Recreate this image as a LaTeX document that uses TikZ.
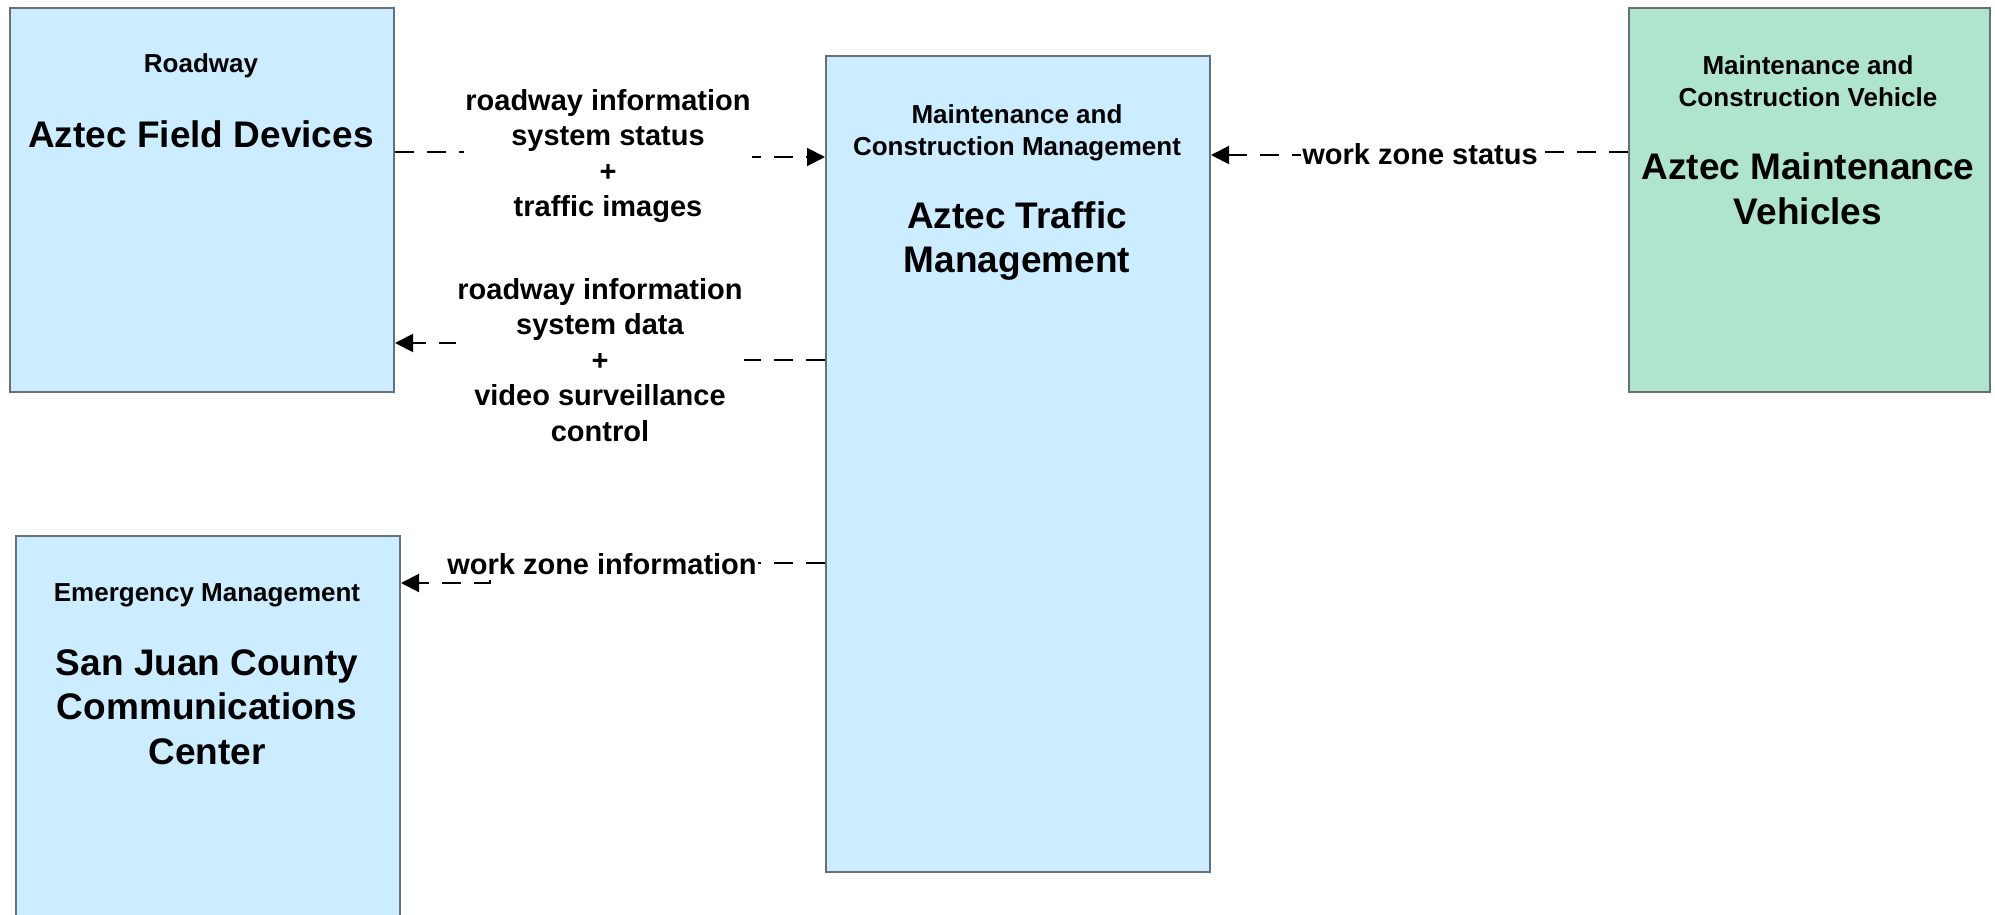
\documentclass[tikz,border=0pt]{standalone}
\usepackage{fontspec}
\setmainfont{Liberation Sans}
\usetikzlibrary{arrows.meta}
\definecolor{boxblue}{RGB}{204,236,255}
\definecolor{boxgreen}{RGB}{175,228,205}
\definecolor{boxline}{RGB}{102,112,122}
\tikzset{
  sysbox/.style={draw=boxline, line width=2pt, rectangle, anchor=north west, inner sep=0pt},
  smalltxt/.style={font=\fontsize{26}{32.5}\selectfont\bfseries, align=center, inner sep=0pt},
  bigtxt/.style={font=\fontsize{37}{44.5}\selectfont\bfseries, align=center, inner sep=0pt},
  flowlbl/.style={font=\fontsize{29}{35.5}\selectfont\bfseries, align=center, fill=white, inner sep=1pt},
  flow/.style={draw=black, line width=2pt, dash pattern=on 19pt off 13pt, -{Triangle[length=18pt,width=18pt]}}
}
\begin{document}
\begin{tikzpicture}[x=1pt,y=-1pt]
\useasboundingbox (0,0) rectangle (1995,915);
\fill[white] (0,0) rectangle (1995,915);
\clip (0,0) rectangle (1995,915);
% boxes
\node[sysbox, fill=boxblue, minimum width=384pt, minimum height=384pt] (b1) at (9,7) {};
\node[sysbox, fill=boxblue, minimum width=384pt, minimum height=816pt] (b2) at (825,55) {};
\node[sysbox, fill=boxgreen, minimum width=361pt, minimum height=384pt] (b3) at (1628,7) {};
\node[sysbox, fill=boxblue, minimum width=384pt, minimum height=400pt] (b4) at (15,535) {};
% box texts
\node[smalltxt] (b1cls) at (201,66) {Roadway};
\node[bigtxt] (b1name) at (201,134) {Aztec Field Devices};
\node[smalltxt] (b2cls) at (1017,133) {Maintenance and\\Construction Management};
\node[bigtxt] (b2name) at (1017,241) {Aztec Traffic\\Management};
\node[smalltxt] (b3cls) at (1808,81) {Maintenance and\\Construction Vehicle};
\node[bigtxt] (b3name) at (1808,189) {Aztec Maintenance\\Vehicles};
\node[smalltxt] (b4cls) at (207,595) {Emergency Management};
\node[bigtxt] (b4name) at (207,707) {San Juan County\\Communications\\Center};
% connectors
\draw[flow] (b1.east |- 0,152) -- (608,152) -- (608,157) -- (b2.west |- 0,157);
\draw[flow] (b2.west |- 0,360) -- (600,360) -- (600,343) -- (b1.east |- 0,343);
\draw[flow] (b2.west |- 0,563) -- (490,563) -- (490,583) -- (b4.east |- 0,583);
\draw[flow] (b3.west |- 0,152) -- (1420,152) -- (1420,155) -- (b2.east |- 0,155);
% flow labels
\node[flowlbl] (l1) at (608,156) {roadway information\\system status\\+\\traffic images};
\node[flowlbl] (l2) at (600,360) {roadway information\\system data\\+\\video surveillance\\control};
\node[flowlbl] (l3) at (602,564) {work zone information};
\node[flowlbl] (l4) at (1420,154) {work zone status};
\end{tikzpicture}
\end{document}
